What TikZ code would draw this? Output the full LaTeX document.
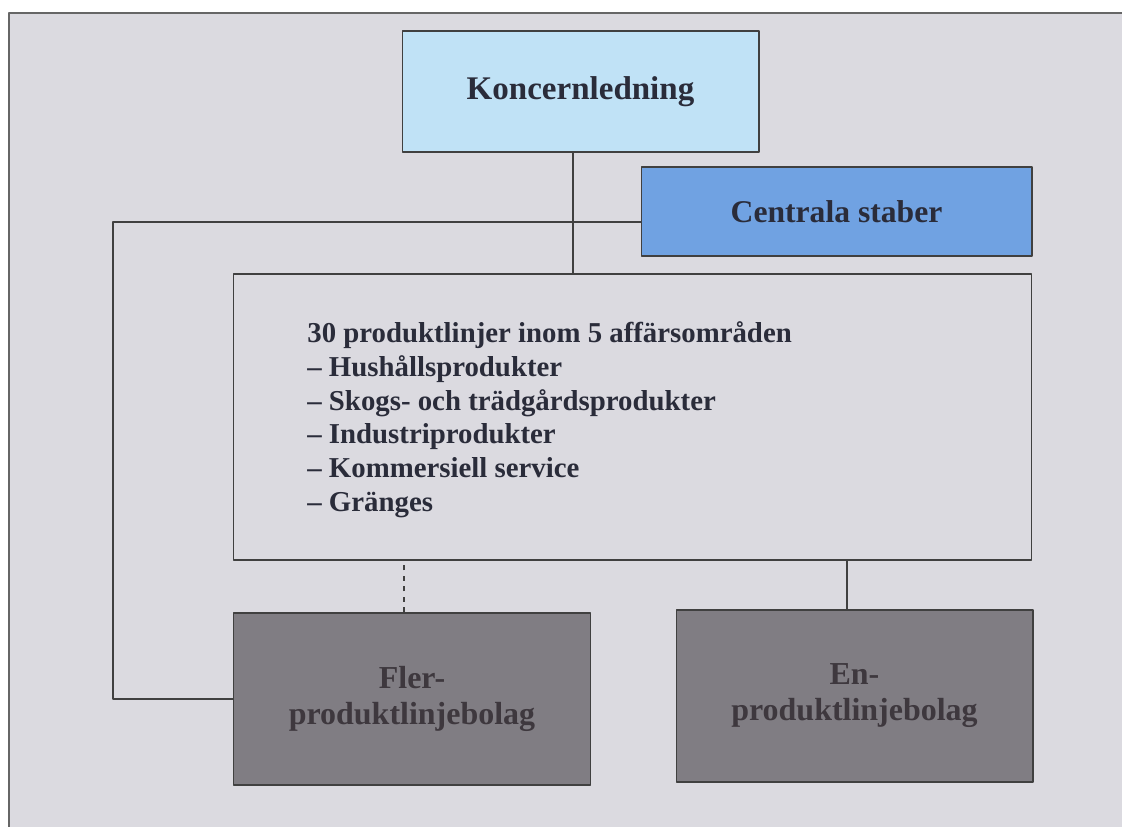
\documentclass[tikz,border=0pt]{standalone}
\usepackage{fontspec}
\setmainfont{Liberation Serif}
\usetikzlibrary{positioning,calc}
\definecolor{bgray}{RGB}{219,218,224}
\definecolor{lblue}{RGB}{192,226,246}
\definecolor{mblue}{RGB}{112,162,226}
\definecolor{dgray}{RGB}{128,125,131}
\definecolor{ink}{RGB}{42,44,58}
\definecolor{dink}{RGB}{62,56,62}
\tikzset{
  orgbox/.style={draw=black!75, line width=0.6pt, inner sep=0pt, font=\bfseries\fontsize{18}{21}\selectfont, text=ink, align=center},
  darkbox/.style={orgbox, fill=dgray, text=dink, font=\bfseries\fontsize{18.2}{20.5}\selectfont},
  link/.style={draw=black!75, line width=0.6pt}
}

\begin{document}
\begin{tikzpicture}[x=0.02cm, y=-0.02cm, line join=round]
\useasboundingbox (0,0) rectangle (1122,827);
\fill[bgray] (9,13) rectangle (1122,827);
\draw[black!60, line width=0.7pt] (1122,13)--(9,13)--(9,827);
\node[orgbox, fill=lblue, minimum width=7.14cm, minimum height=2.42cm,
      font=\bfseries\fontsize{18.8}{22}\selectfont] (kl) at (580.5,91.5) {Koncernledning};
\node[orgbox, fill=mblue, minimum width=7.82cm, minimum height=1.78cm] (cs) at (836.5,211.5) {Centrala staber};
\node[orgbox, minimum width=15.98cm, minimum height=5.72cm] (pl) at (632.5,417) {};
\node[anchor=north west, inner sep=0pt, align=left, text=ink,
      font=\bfseries\fontsize{16.4}{19.3}\selectfont] (pltext) at (307,321)
  {30 produktlinjer inom 5 affärsområden\\
   -- Hushållsprodukter\\
   -- Skogs- och trädgårdsprodukter\\
   -- Industriprodukter\\
   -- Kommersiell service\\
   -- Gränges};
\node[darkbox, minimum width=7.16cm, minimum height=3.44cm] (fl) at (412,699) {Fler-\\produktlinjebolag};
\node[darkbox, minimum width=7.14cm, minimum height=3.44cm] (en) at (854.5,696) {En-\\produktlinjebolag};
\coordinate (lt) at (113,222);
\draw[link] ([xshift=-0.15cm]kl.south) -- ([xshift=-0.15cm]kl.south |- pl.north);
\draw[link] (lt -| cs.west) -- (lt) |- (fl.west);
\draw[link, dashed] ([xshift=-0.16cm]fl.north) -- ([xshift=-0.16cm]fl.north |- pl.south);
\draw[link] ([xshift=-0.15cm]en.north) -- ([xshift=-0.15cm]en.north |- pl.south);
\end{tikzpicture}
\end{document}
